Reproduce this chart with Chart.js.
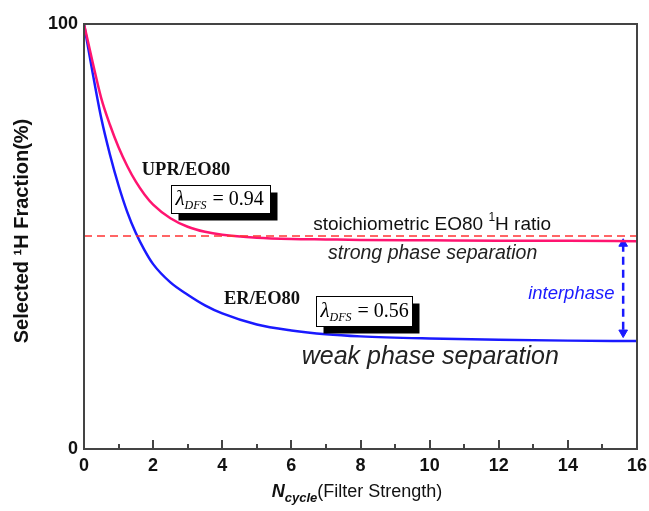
<!DOCTYPE html>
<html>
<head>
<meta charset="utf-8">
<script src="https://cdn.jsdelivr.net/npm/chart.js@4.4.1/dist/chart.umd.min.js"></script>
<style>
  html, body { margin: 0; padding: 0; background: #fff; }
  #wrap { width: 649px; height: 511px; position: relative; }
</style>
</head>
<body>
<div id="wrap"><canvas id="chart"></canvas></div>
<script>
// values
const nCycle = [0, 0.25, 0.5, 0.75, 1, 1.25, 1.5, 1.75, 2, 2.5, 3, 3.5, 4, 5, 6, 7, 8, 10, 12, 14, 16];
const uprFraction = [100, 91.0, 82.5, 76.3, 71.0, 66.6, 62.9, 59.9, 57.5, 54.3, 52.3, 51.1, 50.4, 49.7, 49.4, 49.3, 49.2, 49.1, 49.0, 49.0, 48.9];
const erFraction = [100, 88.5, 77.8, 69.3, 62.0, 55.8, 50.8, 46.8, 43.5, 39.2, 36.3, 33.8, 31.9, 29.3, 27.9, 27.0, 26.5, 26.0, 25.7, 25.5, 25.4];
const stoichRatio = 50.1;
const interphaseX = 15.6;
const interphaseEnds = [48.3, 27.4];
const xTicks = [0, 2, 4, 6, 8, 10, 12, 14, 16];
const yTicks = [0, 100];

const PINK = "#ff1470";
const BLUE = "#1a1aff";
const RED = "#ff3333";
const FRAME = "#444";
const SANS = "'Liberation Sans', Arial, sans-serif";
const SERIF = "'Liberation Serif', 'Times New Roman', serif";

const pts = (ys) => nCycle.map((x, i) => ({ x, y: ys[i] }));

// text placed in data coordinates
const labels = [
  { text: "UPR/EO80", x: 2.95, y: 65.6, font: "bold 18.5px " + SERIF, color: "#111", align: "center" },
  { text: "ER/EO80", x: 5.15, y: 35.3, font: "bold 18.5px " + SERIF, color: "#111", align: "center" },
  { text: "strong phase separation", x: 7.06, y: 45.9, font: "italic 19.5px " + SANS, color: "#222", align: "left" },
  { text: "interphase", x: 12.85, y: 36.6, font: "italic 18.5px " + SANS, color: BLUE, align: "left" },
  { text: "weak phase separation", x: 6.3, y: 21.6, font: "italic 25px " + SANS, color: "#222", align: "left" },
];
const lambdaBoxes = [
  { value: "0.94", x0: 2.52, y0: 62.1, x1: 5.38, y1: 55.5 },
  { value: "0.56", x0: 6.71, y0: 36.0, x1: 9.49, y1: 28.9 },
];

const decor = {
  id: "decor",
  afterDraw(chart) {
    const { ctx, chartArea: a, scales } = chart;
    const sx = scales.x, sy = scales.y;
    ctx.save();

    // frame
    ctx.strokeStyle = FRAME;
    ctx.lineWidth = 2;
    ctx.strokeRect(a.left, a.top, a.right - a.left, a.bottom - a.top);

    // inward ticks on the x axis
    ctx.beginPath();
    for (let i = 1; i < 16; i++) {
      const px = Math.round(sx.getPixelForValue(i));
      const len = i % 2 === 0 ? 9 : 5;
      ctx.moveTo(px, a.bottom);
      ctx.lineTo(px, a.bottom - len);
    }
    ctx.stroke();

    // free labels
    ctx.textBaseline = "middle";
    labels.forEach((l) => {
      ctx.font = l.font;
      ctx.fillStyle = l.color;
      ctx.textAlign = l.align;
      ctx.fillText(l.text, sx.getPixelForValue(l.x), sy.getPixelForValue(l.y));
    });

    // stoichiometric label with superscript
    ctx.textAlign = "left";
    ctx.fillStyle = "#111";
    let tx = sx.getPixelForValue(6.63), ty = sy.getPixelForValue(52.7);
    ctx.font = "19px " + SANS;
    let s = "stoichiometric EO80 ";
    ctx.fillText(s, tx, ty);
    tx += ctx.measureText(s).width;
    ctx.font = "12px " + SANS;
    ctx.fillText("1", tx, ty - 7);
    tx += ctx.measureText("1").width;
    ctx.font = "19px " + SANS;
    ctx.fillText("H ratio", tx, ty);

    // lambda boxes with drop shadow
    lambdaBoxes.forEach((b) => {
      const x0 = Math.round(sx.getPixelForValue(b.x0)) + 0.5;
      const y0 = Math.round(sy.getPixelForValue(b.y0)) + 0.5;
      const x1 = Math.round(sx.getPixelForValue(b.x1)) + 0.5;
      const y1 = Math.round(sy.getPixelForValue(b.y1)) + 0.5;
      ctx.fillStyle = "#000";
      ctx.fillRect(x0 + 7, y0 + 7, x1 - x0, y1 - y0);
      ctx.fillStyle = "#fff";
      ctx.fillRect(x0, y0, x1 - x0, y1 - y0);
      ctx.strokeStyle = "#000";
      ctx.lineWidth = 1;
      ctx.strokeRect(x0, y0, x1 - x0, y1 - y0);
      const cy = (y0 + y1) / 2;
      let px = x0 + 4;
      ctx.fillStyle = "#000";
      ctx.textAlign = "left";
      ctx.font = "italic 21px " + SERIF;
      ctx.fillText("\u03bb", px, cy);
      px += ctx.measureText("\u03bb").width;
      ctx.font = "italic 12px " + SERIF;
      ctx.fillText("DFS", px, cy + 6);
      px += ctx.measureText("DFS").width + 6;
      ctx.font = "20px " + SERIF;
      ctx.fillText("= " + b.value, px, cy);
    });

    // axis titles
    ctx.fillStyle = "#111";
    const xt = "(Filter Strength)";
    ctx.font = "bold italic 18px " + SANS;
    const wN = ctx.measureText("N").width;
    ctx.font = "bold italic 13px " + SANS;
    const wC = ctx.measureText("cycle").width;
    ctx.font = "18px " + SANS;
    const wT = ctx.measureText(xt).width;
    let ax = 357 - (wN + wC + wT) / 2;
    const ay = 492;
    ctx.font = "bold italic 18px " + SANS;
    ctx.fillText("N", ax, ay);
    ax += wN;
    ctx.font = "bold italic 13px " + SANS;
    ctx.fillText("cycle", ax, ay + 6);
    ax += wC;
    ctx.font = "18px " + SANS;
    ctx.fillText(xt, ax, ay);

    ctx.translate(22, 231);
    ctx.rotate(-Math.PI / 2);
    ctx.textAlign = "center";
    ctx.font = "bold 20px " + SANS;
    ctx.fillText("Selected \u00b9H Fraction(%)", 0, 0);
    ctx.restore();
  },
};

new Chart(document.getElementById("chart"), {
  type: "scatter",
  data: {
    datasets: [
      {
        label: "stoichiometric",
        data: [{ x: 0, y: stoichRatio }, { x: 16, y: stoichRatio }],
        showLine: true,
        borderColor: RED,
        borderWidth: 1.5,
        borderDash: [8, 5],
        pointRadius: 0,
      },
      {
        label: "UPR/EO80",
        data: pts(uprFraction),
        showLine: true,
        borderColor: PINK,
        borderWidth: 2.5,
        cubicInterpolationMode: "monotone",
        pointRadius: 0,
      },
      {
        label: "ER/EO80",
        data: pts(erFraction),
        showLine: true,
        borderColor: BLUE,
        borderWidth: 2.5,
        cubicInterpolationMode: "monotone",
        pointRadius: 0,
      },
      {
        label: "interphase",
        data: interphaseEnds.map((y) => ({ x: interphaseX, y })),
        showLine: true,
        borderColor: BLUE,
        backgroundColor: BLUE,
        borderWidth: 2.5,
        borderDash: [8, 5],
        pointStyle: "triangle",
        pointRadius: 5,
        pointBorderWidth: 1,
        rotation: [0, 180],
      },
    ],
  },
  options: {
    responsive: true,
    maintainAspectRatio: false,
    animation: false,
    layout: { padding: { top: 24, right: 12, left: 0, bottom: 0 } },
    plugins: { legend: { display: false }, tooltip: { enabled: false } },
    scales: {
      x: {
        type: "linear",
        min: 0,
        max: 16,
        afterBuildTicks: (s) => { s.ticks = xTicks.map((v) => ({ value: v })); },
        afterFit: (s) => { s.height = 62; s.paddingLeft = 0; s.paddingRight = 0; },
        grid: { display: false, drawTicks: false },
        border: { display: false },
        ticks: { color: "#111", padding: 6, maxRotation: 0, font: { family: SANS, size: 18, weight: "bold" } },
      },
      y: {
        min: 0,
        max: 100,
        afterBuildTicks: (s) => { s.ticks = yTicks.map((v) => ({ value: v })); },
        afterFit: (s) => { s.width = 84; s.paddingTop = 0; s.paddingBottom = 0; },
        grid: { display: false, drawTicks: false },
        border: { display: false },
        ticks: { color: "#111", padding: 6, font: { family: SANS, size: 18, weight: "bold" } },
      },
    },
  },
  plugins: [decor],
});
</script>
</body>
</html>
